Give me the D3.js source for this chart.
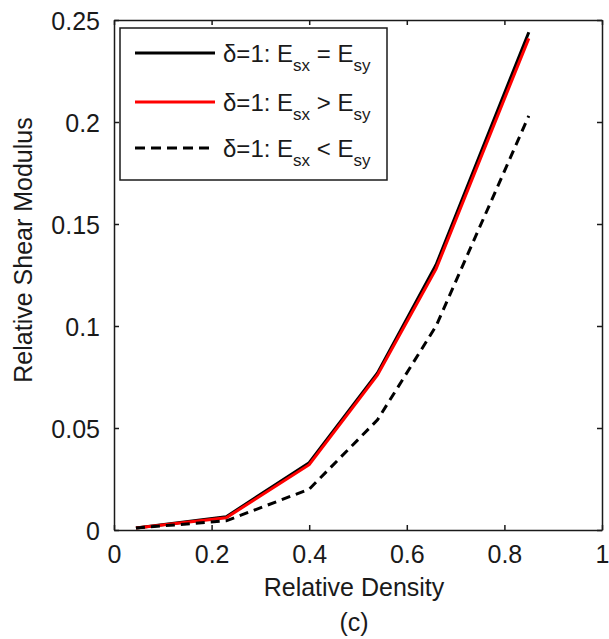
<!DOCTYPE html>
<html>
<head>
<meta charset="utf-8">
<script src="https://cdn.jsdelivr.net/npm/d3@7"></script>
<style>
  html, body { margin: 0; padding: 0; background: #fff; }
  svg { display: block; font-family: "Liberation Sans", Arial, sans-serif; }
</style>
</head>
<body>
<svg id="chart" width="609" height="639"></svg>
<script>
// Relative density sample points
const density = [0.045, 0.23, 0.40, 0.54, 0.66, 0.85];
// Relative shear modulus for each stiffness case (δ = 1)
const shearEqual   = [0.001, 0.0065, 0.033, 0.077, 0.130, 0.244];
const shearGreater = [0.001, 0.0060, 0.032, 0.076, 0.128, 0.241];
const shearLess    = [0.001, 0.0045, 0.020, 0.054, 0.100, 0.203];

const xTicks = [0, 0.2, 0.4, 0.6, 0.8, 1];
const yTicks = [0, 0.05, 0.1, 0.15, 0.2, 0.25];

const series = [
  { name: "eq", values: shearEqual,   color: "#000000", dash: null,  op: "=" },
  { name: "gt", values: shearGreater, color: "#ff0000", dash: null,  op: ">" },
  { name: "lt", values: shearLess,    color: "#000000", dash: "9,6", op: "<" }
];

const svg = d3.select("#chart");
const m = { left: 114, right: 602, top: 20, bottom: 530 };

const x = d3.scaleLinear().domain([0, 1]).range([m.left, m.right]);
const y = d3.scaleLinear().domain([0, 0.25]).range([m.bottom, m.top]);

const ink = "#1a1a1a";
const fs = 25;
const fmt = d => d === 0 ? "0" : d === 1 ? "1" : String(d);

// Data lines
const line = d3.line().x((d, i) => x(density[i])).y(d => y(d));
series.forEach(s => {
  svg.append("path")
    .datum(s.values)
    .attr("d", line)
    .attr("fill", "none")
    .attr("stroke", s.color)
    .attr("stroke-width", 3)
    .attr("stroke-dasharray", s.dash);
});

// Axes with inward ticks on all four sides
const tickLen = 5;
const axes = [
  { gen: d3.axisBottom(x).tickValues(xTicks).tickSize(-tickLen).tickFormat(fmt), t: `translate(0,${m.bottom})`, side: "bottom" },
  { gen: d3.axisTop(x).tickValues(xTicks).tickSize(-tickLen).tickFormat(""), t: `translate(0,${m.top})`, side: "top" },
  { gen: d3.axisLeft(y).tickValues(yTicks).tickSize(-tickLen).tickFormat(fmt), t: `translate(${m.left},0)`, side: "left" },
  { gen: d3.axisRight(y).tickValues(yTicks).tickSize(-tickLen).tickFormat(""), t: `translate(${m.right},0)`, side: "right" }
];
axes.forEach(a => {
  const g = svg.append("g").attr("transform", a.t).call(a.gen.tickSizeOuter(0));
  g.select(".domain").attr("stroke", ink).attr("stroke-width", 1.5);
  g.selectAll(".tick line").attr("stroke", ink).attr("stroke-width", 1.5);
  const txt = g.selectAll(".tick text")
    .attr("font-size", fs)
    .attr("font-family", "Liberation Sans, Arial, sans-serif")
    .attr("fill", ink);
  if (a.side === "bottom") txt.attr("dy", null).attr("y", 33);
  if (a.side === "left") txt.attr("x", -14).attr("dy", "0.36em");
});

// Axis titles
svg.append("text")
  .attr("x", (m.left + m.right) / 2 - 4).attr("y", 596)
  .attr("text-anchor", "middle").attr("font-size", fs).attr("fill", ink)
  .text("Relative Density");
svg.append("text")
  .attr("transform", `translate(32,250) rotate(-90)`)
  .attr("text-anchor", "middle").attr("font-size", fs).attr("fill", ink)
  .text("Relative Shear Modulus");
svg.append("text")
  .attr("x", (m.left + m.right) / 2 - 4).attr("y", 631)
  .attr("text-anchor", "middle").attr("font-size", fs).attr("fill", ink)
  .text("(c)");

// Legend
const leg = svg.append("g");
leg.append("rect")
  .attr("x", 120).attr("y", 28).attr("width", 267).attr("height", 152)
  .attr("fill", "#fff").attr("stroke", ink).attr("stroke-width", 1.5);
const rowY = [53, 102, 148];
series.forEach((s, i) => {
  leg.append("line")
    .attr("x1", 135).attr("x2", 215).attr("y1", rowY[i]).attr("y2", rowY[i])
    .attr("stroke", s.color).attr("stroke-width", 3)
    .attr("stroke-dasharray", s.dash ? "10,6" : null);
  const t = leg.append("text")
    .attr("x", 223).attr("y", rowY[i] + 9)
    .attr("font-size", 24).attr("fill", ink);
  t.append("tspan").text("δ=1: E");
  t.append("tspan").attr("font-size", 17).attr("dy", 9).text("sx");
  t.append("tspan").attr("dy", -9).text(` ${s.op} E`);
  t.append("tspan").attr("font-size", 17).attr("dy", 9).text("sy");
});
</script>
</body>
</html>
